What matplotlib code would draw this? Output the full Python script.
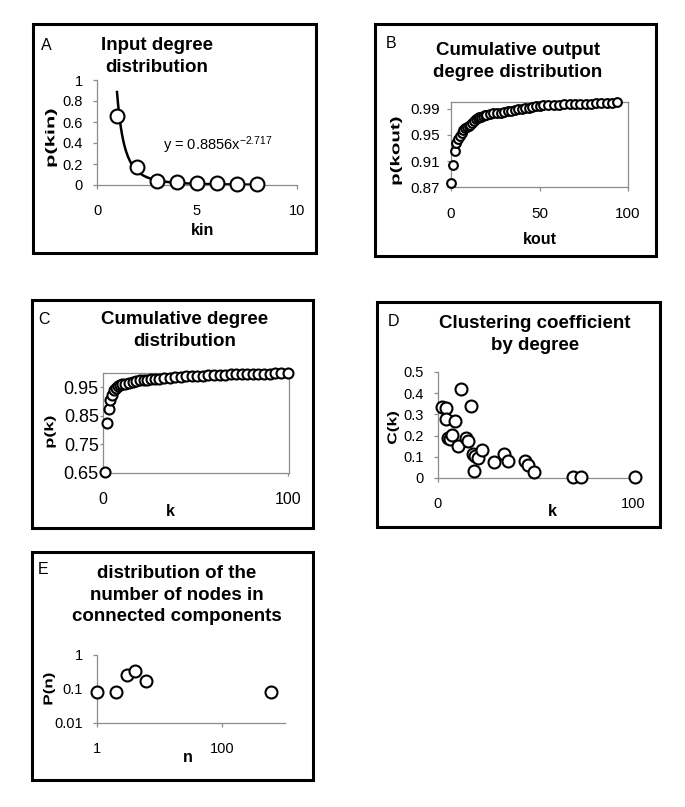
import matplotlib
matplotlib.use("Agg")
import matplotlib.pyplot as plt
from matplotlib.patches import Rectangle, PathPatch
from matplotlib.textpath import TextPath
from matplotlib.font_manager import FontProperties
from matplotlib.transforms import Affine2D

plt.rcParams['font.family'] = ['Liberation Sans', 'DejaVu Sans']
plt.rcParams['mathtext.fontset'] = 'custom'
plt.rcParams['mathtext.rm'] = 'Liberation Sans'
plt.rcParams['mathtext.it'] = 'Liberation Sans'

# A: input degree distribution
kin = [1, 2, 3, 4, 5, 6, 7, 8]
p_kin = [0.66, 0.17, 0.04, 0.03, 0.015, 0.02, 0.005, 0.005]
fit_a = 0.8856
fit_b = -2.717

# B: cumulative output degree distribution
kout = [0, 1, 2, 3, 4, 5, 6, 7, 8, 9, 10, 11, 12, 13, 14, 15, 16, 17, 18, 19,
        20, 22, 24, 26, 28, 30, 32, 34, 36, 38, 40, 42, 44, 46, 48, 50, 52, 55,
        58, 61, 64, 67, 70, 73, 76, 79, 82, 85, 88, 91, 94]
p_kout = [0.876, 0.904, 0.925, 0.937, 0.944, 0.948, 0.953, 0.957, 0.960, 0.962,
          0.964, 0.966, 0.969, 0.972, 0.974, 0.976, 0.977, 0.978, 0.979, 0.980,
          0.981, 0.982, 0.983, 0.984, 0.984, 0.985, 0.986, 0.987, 0.988, 0.989,
          0.990, 0.991, 0.992, 0.993, 0.994, 0.995, 0.996, 0.996, 0.996, 0.996,
          0.997, 0.997, 0.997, 0.998, 0.998, 0.998, 0.999, 0.999, 0.999, 0.999, 1.0]

# C: cumulative degree distribution
k_c = [1, 2, 3, 4, 5, 6, 7, 8, 9, 10, 12, 14, 16, 18, 20, 22, 24, 26, 28, 30,
       33, 36, 39, 42, 45, 48, 51, 54, 57, 60, 63, 66, 69, 72, 75, 78, 81, 84,
       87, 90, 93, 96, 100]
p_k = [0.655, 0.825, 0.875, 0.905, 0.922, 0.94, 0.948, 0.955, 0.958, 0.96,
       0.963, 0.966, 0.969, 0.972, 0.974, 0.976, 0.977, 0.978, 0.979, 0.98,
       0.982, 0.984, 0.985, 0.987, 0.988, 0.989, 0.99, 0.991, 0.992, 0.993,
       0.993, 0.994, 0.995, 0.995, 0.996, 0.996, 0.997, 0.997, 0.998, 0.998,
       0.999, 0.999, 1.0]

# D: clustering coefficient by degree
k_d = [2, 4, 4, 5, 6, 7, 8.5, 10, 12, 17, 14.5, 15.5, 18, 19, 18.5, 20.5,
       22.5, 28.5, 34, 36, 44.5, 46, 49, 69, 73.5, 101]
c_k = [0.335, 0.33, 0.28, 0.19, 0.185, 0.205, 0.27, 0.15, 0.42, 0.34, 0.19,
       0.175, 0.115, 0.105, 0.035, 0.095, 0.13, 0.075, 0.115, 0.078, 0.08,
       0.06, 0.028, 0.005, 0.003, 0.007]

# E: component size distribution
n_e = [1, 2, 3, 4, 6, 600]
p_n = [0.083, 0.083, 0.25, 0.33, 0.167, 0.083]

W, H = 685, 807
fig = plt.figure(figsize=(W / 100, H / 100), dpi=100)


def box(l, t, r, b):
    return [l / W, 1 - b / H, (r - l) / W, (b - t) / H]


def ftext(x, y, s, **kw):
    fig.text(x / W, 1 - y / H, s, **kw)


bold = FontProperties(family='Liberation Sans', weight='bold')


# y labels in the original are stretched along their length, so draw them as paths
def vlabel(cx, cy, s, length, thick):
    tp = TextPath((0, 0), s, size=10, prop=bold)
    bb = tp.get_extents()
    tr = (Affine2D()
          .translate(-(bb.x0 + bb.x1) / 2, -(bb.y0 + bb.y1) / 2)
          .scale(length / bb.width, thick / bb.height)
          .rotate_deg(90)
          .translate(cx, H - cy))
    fig.add_artist(PathPatch(tp, transform=tr, fc='black', ec='none'))


gray = '#8c8c8c'


def style(ax, full=False, size=10.5, xsize=None, xpad=11, ypad=7, tlen=3):
    for s in ['top', 'right']:
        ax.spines[s].set_visible(full)
    for s in ax.spines.values():
        s.set_color(gray)
        s.set_linewidth(0.9)
    ax.tick_params(direction='out', length=tlen, width=0.9, color=gray)
    ax.tick_params(axis='x', pad=xpad, labelsize=xsize or size)
    ax.tick_params(axis='y', pad=ypad, labelsize=size)
    ax.set_facecolor('none')


def dots(ax, x, y, ms):
    ax.plot(x, y, 'o', ms=ms, mfc='white', mec='black', mew=1.5,
            ls='none', clip_on=False, zorder=3)


# panel frames
for l, t, r, b in [(33, 24, 316, 253), (375, 24, 656, 256), (32, 300, 313, 528),
                   (377, 302, 660, 527), (32, 552, 313, 780)]:
    fig.patches.append(Rectangle((l / W, 1 - b / H), (r - l) / W, (b - t) / H,
                                 transform=fig.transFigure, fill=False,
                                 ec='black', lw=2.2))

tfont = dict(fontsize=13.5, fontweight='bold', ha='center', va='center',
             linespacing=1.38)
lfont = dict(fontsize=11.5, fontweight='bold', ha='center', va='center')
letter = dict(fontsize=11.5, va='center')

# A
ax = fig.add_axes(box(97, 80, 297, 185))
style(ax, size=10.5, xpad=10.5, ypad=7)
xs = [1 + i * 0.05 for i in range(141)]
ax.plot(xs, [fit_a * v ** fit_b for v in xs], color='black', lw=1.8, zorder=2)
dots(ax, kin, p_kin, 10)
ax.set_xlim(0, 10)
ax.set_ylim(0, 1)
ax.set_xticks([0, 5, 10])
ax.set_yticks([0, 0.2, 0.4, 0.6, 0.8, 1])
ax.set_yticklabels(['0', '0.2', '0.4', '0.6', '0.8', '1'])
ax.text(3.3, 0.38, r'y = 0.8856x$^{-2.717}$', fontsize=10.5, va='center')
ftext(203, 231, 'kin', **lfont)
vlabel(51, 138, 'p(kin)', 57, 12)
ftext(157, 56.5, 'Input degree\ndistribution', **tfont)
ftext(41, 45, 'A', **letter)

# B
ax = fig.add_axes(box(451, 102.3, 628, 187.3))
style(ax, full=True, size=11, xpad=11, ypad=5)
dots(ax, kout, p_kout, 6.3)
ax.set_xlim(0, 100)
ax.set_ylim(0.87, 1.0)
ax.set_xticks([0, 50, 100])
ax.set_yticks([0.87, 0.91, 0.95, 0.99])
ftext(540, 240, 'kout', **lfont)
vlabel(396, 151, 'p(kout)', 67, 12)
ftext(518, 61.5, 'Cumulative output\ndegree distribution', **tfont)
ftext(386, 44, 'B', **letter)

# C
ax = fig.add_axes(box(103, 373, 289, 473))
style(ax, full=True, size=13, xsize=11.5, xpad=12, ypad=1, tlen=2)
dots(ax, k_c, p_k, 7.2)
ax.set_xlim(0, 100.5)
ax.set_ylim(0.65, 1.0)
ax.set_xticks([0, 100])
ax.set_yticks([0.65, 0.75, 0.85, 0.95])
ftext(170, 511, 'k', **lfont)
vlabel(50, 432, 'p(k)', 31, 11.5)
ftext(185, 330.5, 'Cumulative degree\ndistribution', **tfont)
ftext(38, 320, 'C', **letter)

# D
ax = fig.add_axes(box(438, 372, 636, 478))
style(ax, size=10.5, xpad=10.5, ypad=7)
dots(ax, k_d, c_k, 8.6)
ax.set_xlim(0, 101.5)
ax.set_ylim(0, 0.5)
ax.set_xticks([0, 100])
ax.set_yticks([0, 0.1, 0.2, 0.3, 0.4, 0.5])
ax.set_yticklabels(['0', '0.1', '0.2', '0.3', '0.4', '0.5'])
ftext(552, 512, 'k', **lfont)
vlabel(393, 428, 'C(k)', 32, 12)
ftext(535, 334.5, 'Clustering coefficient\nby degree', **tfont)
ftext(388, 322, 'D', **letter)

# E
ax = fig.add_axes(box(97, 655, 285, 723))
style(ax, size=10.5, xpad=10.5, ypad=7)
dots(ax, n_e, p_n, 8.6)
ax.set_xscale('log')
ax.set_yscale('log')
ax.set_xlim(1, 1000)
ax.set_ylim(0.01, 1)
ax.set_xticks([1, 100])
ax.set_xticklabels(['1', '100'])
ax.set_yticks([0.01, 0.1, 1])
ax.set_yticklabels(['0.01', '0.1', '1'])
ax.minorticks_off()
ftext(188, 758, 'n', **lfont)
vlabel(49, 689, 'P(n)', 31, 12)
ftext(177, 595, 'distribution of the\nnumber of nodes in\nconnected components', **tfont)
ftext(38, 570, 'E', **letter)

fig.savefig('out.png', dpi=100)
